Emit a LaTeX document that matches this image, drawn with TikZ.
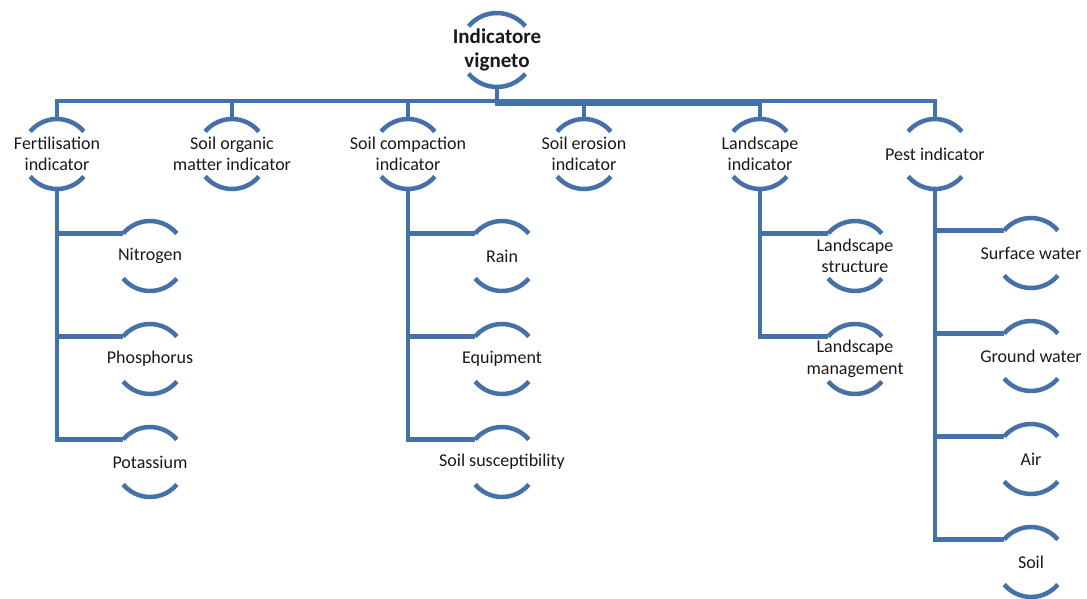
\documentclass[tikz,border=0pt]{standalone}
\usepackage{fontspec}
\setmainfont{Carlito}
\usepackage{tikz}
\usetikzlibrary{positioning}
\definecolor{smartblue}{RGB}{68,114,168}
\definecolor{ink}{RGB}{25,25,25}
\tikzstyle{link} = [draw=smartblue, line width=4.5pt]
\tikzstyle{arcline} = [draw=smartblue, line width=4.5pt]
\tikzstyle{rtext} = [align=center, text=ink, inner sep=0pt,
    font=\fontsize{18}{21.5}\selectfont]
\tikzset{ring/.style={circle, minimum size=70pt, inner sep=0pt, outer sep=0pt,
    label={[rtext]center:#1}}}

\begin{document}
\begin{tikzpicture}[x=1pt, y=1pt, node distance=176pt]
  \useasboundingbox (0,0) rectangle (1087,-599);
  % top of the tree
  \node [ring, minimum size=74pt,
    label={[rtext, font=\bfseries\fontsize{21}{24.5}\selectfont]center:Indicatore\\vigneto}]
    (root) at (497,-50) {};
  % first level
  \node [ring={Fertilisation\\indicator}] (fert) at (57,-154) {};
  \node [ring={Soil organic\\matter indicator}, right of=fert,node distance=175pt] (org) {};
  \node [ring={Soil compaction\\indicator}, right of=org] (comp) {};
  \node [ring={Soil erosion\\indicator}, right of=comp] (eros) {};
  \node [ring={Landscape\\indicator}, right of=eros] (land) {};
  \node [ring={Pest indicator}, right of=land,node distance=175pt] (pest) {};
  % second level
  \node [ring={Nitrogen}] (nit) at (150,-256) {};
  \node [ring={Phosphorus}, below of=nit,node distance=103pt] (pho) {};
  \node [ring={Potassium}, below of=pho,node distance=103pt] (pot) {};
  \node [ring={Rain}] (rain) at (502,-256) {};
  \node [ring={Equipment}, below of=rain,node distance=103pt] (equ) {};
  \node [ring={Soil susceptibility}, below of=equ,node distance=103pt] (sus) {};
  \node [ring={Landscape\\structure}] (lstr) at (855,-256) {};
  \node [ring={Landscape\\management}, below of=lstr,node distance=103pt] (lman) {};
  \node [ring={Surface water}] (surf) at (1031,-253) {};
  \node [ring={Ground water}, below of=surf,node distance=103pt] (gw) {};
  \node [ring={Air}, below of=gw,node distance=103pt] (air) {};
  \node [ring={Soil}, below of=air,node distance=103pt] (soil) {};

  % the two arcs round each label
  \draw [arcline] (root.40) arc[start angle=40, end angle=140, radius=37pt]
                  (root.220) arc[start angle=220, end angle=320, radius=37pt];
  \foreach \n in {fert,org,comp,eros,land,pest,nit,pho,pot,rain,equ,sus,
                  lstr,lman,surf,gw,air,soil}
    \draw [arcline] (\n.40) arc[start angle=40, end angle=140, radius=35pt]
                    (\n.220) arc[start angle=220, end angle=320, radius=35pt];

  % elbows from the root
  \coordinate (bar) at (497,-101);
  \coordinate (barlow) at (497,-103.5);
  \foreach \n in {fert,org,comp,eros,pest}
    \draw [link] (root.south) -- (bar) -| (\n.north);
  \draw [link] (root.south) -- (barlow) -| (land.north);

  % elbows to the second level
  \foreach \p/\c in {fert/nit,fert/pho,fert/pot,comp/rain,comp/equ,comp/sus,
                     land/lstr,land/lman,pest/surf,pest/gw,pest/air,pest/soil}
    \draw [link] (\p.south) |- (\c.140);
\end{tikzpicture}
\end{document}
